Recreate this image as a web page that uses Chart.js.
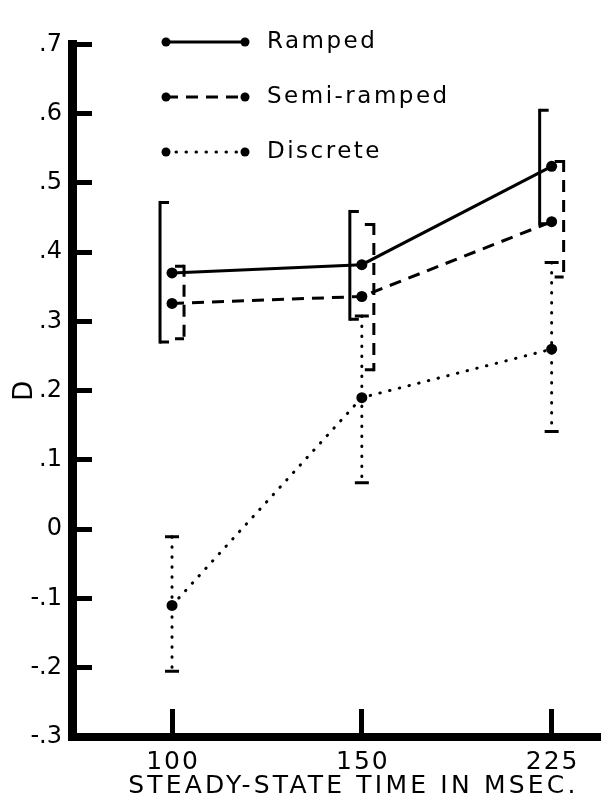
<!DOCTYPE html>
<html>
<head>
<meta charset="utf-8">
<script src="https://cdn.jsdelivr.net/npm/chart.js@4.4.0/dist/chart.umd.min.js"></script>
<style>
  html, body { margin: 0; padding: 0; background: #fff; }
  #wrap { width: 614px; height: 806px; position: relative; }
</style>
</head>
<body>
<div id="wrap"><canvas id="chart"></canvas></div>
<script>
const categories = ['100', '150', '225'];
const seriesNames = ['Ramped', 'Semi-ramped', 'Discrete'];

const rampedMean = [0.370, 0.382, 0.524];
const rampedLow = [0.268, 0.301, 0.439];
const rampedHigh = [0.474, 0.461, 0.607];

const semiMean = [0.326, 0.336, 0.444];
const semiLow = [0.273, 0.228, 0.362];
const semiHigh = [0.382, 0.442, 0.533];

const discreteMean = [-0.110, 0.190, 0.260];
const discreteLow = [-0.205, 0.067, 0.141];
const discreteHigh = [-0.011, 0.308, 0.385];

const yTicks = [-0.3, -0.2, -0.1, 0, 0.1, 0.2, 0.3, 0.4, 0.5, 0.6, 0.7];
const yTickLabels = ['-.3', '-.2', '-.1', '0', '.1', '.2', '.3', '.4', '.5', '.6', '.7'];

const FONT = "'DejaVu Sans', sans-serif";

// line dash of each series and where its error bar sits
const looks = [
    { dash: [], bracket: 'left', shift: -12 },
    { dash: [12, 8], bracket: 'right', shift: 12 },
    { dash: [0.5, 9.5], bracket: 'cap', shift: 0 }
];

const means = [rampedMean, semiMean, discreteMean];
const lows = [rampedLow, semiLow, discreteLow];
const highs = [rampedHigh, semiHigh, discreteHigh];

function toPoints(values) {
    return values.map((v, i) => ({ x: i, y: v }));
}

// the old typeface is widely tracked: add letter spacing to one part of a scale
function tracked(scale, method, px, shift) {
    const base = Object.getPrototypeOf(scale)[method];
    scale[method] = function (...args) {
        const ctx = this.ctx;
        ctx.save();
        ctx.letterSpacing = px;
        ctx.translate(shift || 0, 0);
        base.apply(this, args);
        ctx.restore();
    };
}

const errorBars = {
    id: 'errorBars',
    beforeDatasetsDraw(chart) {
        const { ctx, scales: { x, y } } = chart;
        ctx.save();
        ctx.strokeStyle = '#000';
        lows.forEach((lo, s) => {
            const look = looks[s];
            lo.forEach((v, i) => {
                const px = x.getPixelForValue(i) + look.shift;
                const yLo = y.getPixelForValue(v);
                const yHi = y.getPixelForValue(highs[s][i]);

                ctx.lineWidth = 3;
                ctx.setLineDash(look.dash);
                ctx.lineCap = s === 2 ? 'round' : 'butt';
                ctx.beginPath();
                ctx.moveTo(px, yHi);
                ctx.lineTo(px, yLo);
                ctx.stroke();

                ctx.setLineDash([]);
                ctx.lineCap = 'butt';
                ctx.beginPath();
                if (look.bracket === 'cap') {
                    ctx.moveTo(px - 7, yHi); ctx.lineTo(px + 7, yHi);
                    ctx.moveTo(px - 7, yLo); ctx.lineTo(px + 7, yLo);
                } else {
                    const d = look.bracket === 'left' ? 9 : -9;
                    ctx.moveTo(px + d, yHi + 1.5); ctx.lineTo(px, yHi + 1.5);
                    ctx.moveTo(px + d, yLo - 1.5); ctx.lineTo(px, yLo - 1.5);
                }
                ctx.stroke();
            });
        });
        ctx.restore();
    }
};

const sampleLegend = {
    id: 'sampleLegend',
    afterDraw(chart) {
        const ctx = chart.ctx;
        ctx.save();
        seriesNames.forEach((name, s) => {
            const yy = 42 + s * 55;
            ctx.strokeStyle = '#000';
            ctx.lineWidth = 3;
            ctx.setLineDash(looks[s].dash);
            ctx.lineCap = s === 2 ? 'round' : 'butt';
            ctx.beginPath();
            ctx.moveTo(166, yy);
            ctx.lineTo(245, yy);
            ctx.stroke();
            ctx.setLineDash([]);
            ctx.fillStyle = '#000';
            [166, 245].forEach(px => {
                ctx.beginPath();
                ctx.arc(px, yy, 4.5, 0, Math.PI * 2);
                ctx.fill();
            });
            ctx.letterSpacing = '2.5px';
            ctx.font = '23px ' + FONT;
            ctx.textBaseline = 'middle';
            ctx.textAlign = 'left';
            ctx.fillText(name, 267, yy);
            ctx.letterSpacing = '0px';
        });
        ctx.restore();
    }
};

const chart = new Chart(document.getElementById('chart'), {
    type: 'line',
    data: {
        datasets: seriesNames.map((name, s) => ({
            label: name,
            data: toPoints(means[s]),
            borderColor: '#000',
            backgroundColor: '#000',
            borderWidth: 3,
            borderDash: looks[s].dash,
            borderCapStyle: s === 2 ? 'round' : 'butt',
            pointRadius: 5.5,
            pointBorderWidth: 0,
            pointBackgroundColor: '#000',
            fill: false,
            tension: 0,
            clip: false
        }))
    },
    options: {
        responsive: true,
        maintainAspectRatio: false,
        animation: false,
        events: [],
        layout: { padding: { top: 18, right: 5, bottom: 0, left: 0 } },
        plugins: {
            legend: { display: false },
            tooltip: { enabled: false }
        },
        scales: {
            x: {
                type: 'linear',
                min: -0.527,
                max: 2.248,
                afterBuildTicks: s => { s.ticks = categories.map((c, i) => ({ value: i })); },
                afterFit: s => {
                    s.height = 69;
                    tracked(s, 'drawLabels', '2px', 1);
                    tracked(s, 'drawTitle', '3.2px', 18);
                },
                ticks: {
                    callback: v => categories[v],
                    font: { family: FONT, size: 25 },
                    color: '#000',
                    padding: 38,
                    autoSkip: false,
                    maxRotation: 0
                },
                grid: { drawOnChartArea: false, tickLength: -28, lineWidth: 5, color: '#000' },
                border: { display: true, width: 8, color: '#000' },
                title: {
                    display: true,
                    text: 'STEADY-STATE TIME IN MSEC.',
                    font: { family: FONT, size: 25 },
                    color: '#000',
                    padding: { top: 0, bottom: 5 }
                }
            },
            y: {
                min: -0.3,
                max: 0.7,
                afterBuildTicks: s => { s.ticks = yTicks.map(v => ({ value: v })); },
                afterFit: s => { s.width = 72; },
                ticks: {
                    callback: (v, i) => yTickLabels[i],
                    font: { family: FONT, size: 24 },
                    color: '#000',
                    padding: 30
                },
                grid: { drawOnChartArea: false, tickLength: -20, lineWidth: 5, color: '#000' },
                border: { display: true, width: 9, color: '#000' },
                title: {
                    display: true,
                    text: 'D',
                    font: { family: FONT, size: 26 },
                    color: '#000',
                    padding: { top: 10, bottom: 0 }
                }
            }
        }
    },
    plugins: [errorBars, sampleLegend]
});
</script>
</body>
</html>
